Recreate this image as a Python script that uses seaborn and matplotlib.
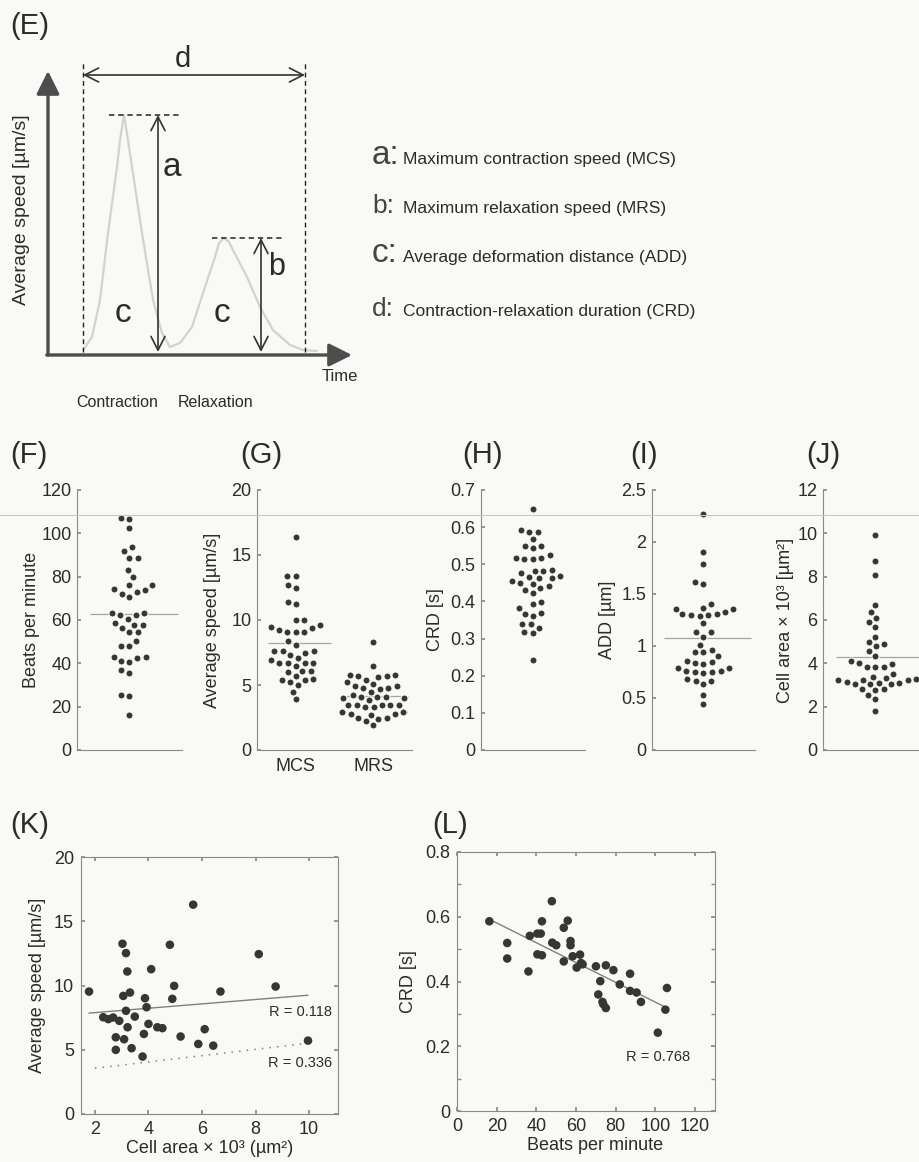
import numpy as np
import pandas as pd
import matplotlib
matplotlib.use("Agg")
import matplotlib.pyplot as plt
import seaborn as sns
from matplotlib.ticker import MultipleLocator, FuncFormatter

# ---------------------------------------------------------------- data
# (E) schematic speed trace (arbitrary time / speed units)
trace_time = [35, 44, 52, 60, 69, 72, 76, 80, 84, 94, 105, 114, 122, 132, 144,
              155, 167, 171, 176, 181, 185, 199, 212, 225, 242, 255, 269]
trace_speed = [5, 18, 55, 122, 188, 215, 240, 215, 188, 122, 55, 22, 8, 12, 28,
               62, 98, 112, 117, 113, 105, 78, 48, 25, 10, 5, 4]
legend_keys = ["a:", "b:", "c:", "d:"]
legend_texts = ["Maximum contraction speed (MCS)",
                "Maximum relaxation speed (MRS)",
                "Average deformation distance (ADD)",
                "Contraction-relaxation duration (CRD)"]

# (F) beats per minute
bpm = [107, 106.5, 102.6, 91.8, 93.8, 88.8, 88.8, 82.9, 79.7, 76.2, 76.2,
       74.3, 72.9, 70.8, 72.2, 73.8, 63.4, 62.3, 60.6, 62.2, 63.2, 58.8, 57.5,
       56.5, 57.8, 54.5, 54.5, 50.3, 48.2, 47.8, 42.9, 40.5, 41.1, 42.3, 43.1,
       35.7, 36.9, 25.4, 25.1, 16.2]
# (G) maximum contraction / relaxation speed [um/s]
mcs = [16.4, 13.4, 13.4, 12.5, 12.7, 11.4, 11.2, 10.0, 9.6, 9.5, 9.4, 10.0,
       9.1, 9.1, 9.2, 9.1, 8.4, 8.1, 7.5, 7.6, 7.6, 7.6, 7.3, 7.1, 6.7, 6.7,
       6.7, 6.7, 6.9, 6.5, 6.1, 6.0, 6.1, 5.7, 5.4, 5.2, 5.4, 5.5, 5.0, 4.5, 3.9]
mrs = [8.3, 6.5, 5.8, 5.7, 5.6, 5.7, 5.8, 5.2, 5.4, 4.9, 4.8, 4.8, 4.9, 5.1,
       4.5, 4.7, 4.1, 4.1, 4.0, 4.1, 4.2, 3.85, 4.0, 3.5, 3.5, 3.5, 3.5, 3.5,
       3.3, 3.3, 2.95, 2.8, 2.95, 2.8, 2.95, 2.5, 2.5, 2.4, 2.7, 2.2, 1.9]
speed_params = ["MCS", "MRS"]
# (H) contraction-relaxation duration [s]
crd = [0.650, 0.592, 0.588, 0.588, 0.568, 0.549, 0.543, 0.549, 0.518, 0.513,
       0.513, 0.518, 0.525, 0.482, 0.484, 0.483, 0.477, 0.466, 0.469, 0.462,
       0.456, 0.462, 0.450, 0.442, 0.432, 0.424, 0.435, 0.447, 0.392, 0.399,
       0.381, 0.365, 0.361, 0.369, 0.338, 0.317, 0.314, 0.329, 0.338, 0.243]
# (I) average deformation distance [um]
add = [2.27, 1.90, 1.79, 1.62, 1.60, 1.37, 1.36, 1.33, 1.36, 1.40, 1.30, 1.29,
       1.31, 1.30, 1.31, 1.22, 1.13, 1.13, 1.09, 1.01, 0.96, 0.94, 0.94, 0.90,
       0.85, 0.84, 0.86, 0.79, 0.76, 0.75, 0.74, 0.75, 0.76, 0.79, 0.83, 0.68,
       0.66, 0.66, 0.63, 0.53, 0.44]
# (J) cell area x 10^3 [um^2]
area = [9.91, 8.72, 8.10, 6.70, 6.39, 6.09, 5.89, 5.66, 5.23, 4.89, 5.00, 4.79,
        4.59, 4.36, 4.13, 3.98, 3.85, 3.85, 3.85, 4.02, 3.52, 3.39, 3.29, 3.21,
        3.13, 3.09, 3.03, 3.03, 3.06, 3.10, 3.21, 3.24, 3.33, 2.80, 2.75, 2.83,
        2.55, 2.37, 1.80]
# (K) cell area vs maximum contraction speed
area_k = [1.78, 5.67, 3.03, 3.16, 4.80, 8.12, 3.21, 4.10, 4.96, 8.75, 6.69,
          3.06, 3.31, 3.87, 4.89, 3.93, 3.16, 3.49, 2.31, 2.50, 2.68, 2.91,
          4.00, 3.22, 4.33, 4.52, 6.10, 3.83, 5.20, 2.78, 3.09, 5.86, 6.42,
          9.96, 2.78, 3.37, 3.78]
mcs_k = [9.53, 16.29, 13.25, 12.52, 13.17, 12.44, 11.09, 11.27, 9.97, 9.92,
         9.53, 9.19, 9.45, 9.01, 8.96, 8.31, 8.03, 7.58, 7.53, 7.38, 7.51, 7.25,
         7.01, 6.75, 6.75, 6.68, 6.60, 6.23, 6.03, 5.97, 5.82, 5.45, 5.32, 5.71,
         4.99, 5.12, 4.47]
fit_mcs_area = (7.55, 0.17)     # intercept, slope
fit_mrs_area = (3.07, 0.245)
r_k = ["R = 0.118", "R = 0.336"]
# (L) beats per minute vs CRD
bpm_l = [16.3, 47.8, 42.8, 55.8, 53.8, 25.3, 25.3, 36.7, 40.5, 42.2, 48.0,
         50.0, 57.2, 57.2, 40.5, 42.8, 36.0, 53.8, 58.3, 62.0, 60.3, 62.5,
         63.3, 70.0, 75.0, 78.8, 72.2, 82.0, 87.2, 87.2, 90.5, 92.7, 71.2,
         73.3, 73.7, 75.0, 105.8, 105.0, 101.2]
crd_l = [0.586, 0.648, 0.586, 0.588, 0.566, 0.519, 0.471, 0.541, 0.548, 0.548,
         0.520, 0.512, 0.525, 0.512, 0.484, 0.481, 0.431, 0.462, 0.478, 0.483,
         0.443, 0.457, 0.453, 0.447, 0.450, 0.435, 0.401, 0.391, 0.424, 0.371,
         0.366, 0.337, 0.360, 0.337, 0.330, 0.318, 0.380, 0.313, 0.242]
fit_crd_bpm = (0.642, -0.00306)
r_l = ["R = 0.768"]

# ---------------------------------------------------------------- style
sns.set_theme(style="white")
plt.rcParams["font.family"] = ["Liberation Sans", "DejaVu Sans"]
bg = "#f9f9f7"
ink = "#2b2b2b"
dot = "#363636"
spc = "#8a8a8a"
plt.rcParams.update({"axes.facecolor": "none", "text.color": ink,
                     "axes.labelcolor": ink, "xtick.color": ink,
                     "ytick.color": ink})
FS = 13

W, H = 920, 1162
fig = plt.figure(figsize=(W / 100, H / 100), dpi=100, facecolor=bg)


def rect(l, t, r, b):
    return [l / W, 1 - b / H, (r - l) / W, (b - t) / H]


def fpx(x, y):
    return x / W, 1 - y / H


# faint scan line across the middle row
fig.add_artist(plt.Line2D([0, 1], [1 - 515 / H] * 2, transform=fig.transFigure,
                          color="#c9c9c9", lw=0.8))

# ---------------------------------------------------------------- (E)
axe = fig.add_axes(rect(0, 0, 920, 420))
axe.set_xlim(-48, 872)
axe.set_ylim(-65, 355)
axe.axis("off")
sns.lineplot(x=trace_time, y=trace_speed, ax=axe, sort=False, estimator=None,
             color="#d2d2d2", lw=1.6)
head = "-|>,head_length=0.7,head_width=0.35"
axe.annotate("", xy=(0, 284), xytext=(0, 0),
             arrowprops=dict(arrowstyle=head, mutation_scale=20, lw=2.4,
                             color="#4d4d4d", shrinkA=0, shrinkB=0))
axe.annotate("", xy=(304, 0), xytext=(-1.2, 0),
             arrowprops=dict(arrowstyle=head, mutation_scale=20, lw=2.4,
                             color="#4d4d4d", shrinkA=0, shrinkB=0))
dash = (0, (3.5, 2.5))
t0, t1 = trace_time[0], 257
for tx in (t0, t1):
    axe.plot([tx, tx], [3, 293], ls=dash, color="#222", lw=1)
p1 = int(np.argmax(trace_speed))
p2 = trace_speed.index(max(trace_speed[12:]))
axe.plot([61, 132], [trace_speed[p1]] * 2, ls=dash, color="#222", lw=1.1)
axe.plot([164, 234], [trace_speed[p2]] * 2, ls=dash, color="#222", lw=1.1)
dbl = "<->,head_length=0.55,head_width=0.28"
for (xa, ya), (xb, yb) in [((t0, 280), (t1, 280)),
                           ((110, trace_speed[p1]), (110, 3)),
                           ((213, trace_speed[p2]), (213, 3))]:
    axe.annotate("", xy=(xb, yb), xytext=(xa, ya),
                 arrowprops=dict(arrowstyle=dbl, mutation_scale=18, lw=1.2,
                                 color="#333", shrinkA=0, shrinkB=0))
axe.text(135, 296, "d", fontsize=21, ha="center", va="center")
axe.text(115, 188, "a", fontsize=24, ha="left", va="center")
axe.text(220, 88, "b", fontsize=22, ha="left", va="center")
axe.text(75, 42, "c", fontsize=24, ha="center", va="center")
axe.text(174, 42, "c", fontsize=24, ha="center", va="center")
axe.text(292, -21, "Time", fontsize=12, ha="center", va="center")
axe.text(69, -47, "Contraction", fontsize=11.5, ha="center", va="center")
axe.text(168, -47, "Relaxation", fontsize=11.5, ha="center", va="center")
axe.text(-26, 145, "Average speed [µm/s]", fontsize=14, rotation=90,
         ha="center", va="center")
for i, (k, txt) in enumerate(zip(legend_keys, legend_texts)):
    yb = [164, 213, 262, 316][i]
    fig.text(*fpx(372, yb), k, fontsize=[24, 19, 24, 19][i], ha="left",
             va="baseline", color="#444")
    fig.text(*fpx(403, yb), txt, fontsize=12.5, ha="left", va="baseline")

# ---------------------------------------------------------------- panels F-J
fmt = FuncFormatter(lambda v, p: f"{v:g}")
SW = dict(color=dot, size=5.1, linewidth=0.8, edgecolor=bg, zorder=3)


def style_swarm(ax, ylim, step, ylabel, lab_x):
    ax.set_ylim(*ylim)
    ax.yaxis.set_major_locator(MultipleLocator(step))
    ax.yaxis.set_major_formatter(fmt)
    for s in ("top", "right"):
        ax.spines[s].set_visible(False)
    for s in ("left", "bottom"):
        ax.spines[s].set_color(spc)
        ax.spines[s].set_linewidth(0.8)
    ax.tick_params(axis="y", direction="in", length=3, color=spc,
                   labelsize=FS, pad=4, left=True)
    ax.set_ylabel(ylabel, fontsize=FS)
    ax.yaxis.set_label_coords(lab_x, 0.5)
    ax.set_xlabel("")


def single_swarm(box, values, ylim, step, ylabel, lab_x, show_mean=True):
    ax = fig.add_axes(rect(*box))
    sns.swarmplot(y=values, ax=ax, **SW)
    if show_mean:
        ax.hlines(float(np.mean(values)), -0.38, 0.46, color="#a3a3a3",
                  lw=0.9, zorder=2)
    ax.set_xlim(-0.5, 0.5)
    ax.set_xticks([])
    style_swarm(ax, ylim, step, ylabel, lab_x)
    return ax


single_swarm((77, 490, 182, 750), bpm, (0, 120), 20, "Beats per minute", -0.35)

axg = fig.add_axes(rect(257, 490, 412, 750))
speed_df = pd.DataFrame({"param": [speed_params[0]] * len(mcs)
                         + [speed_params[1]] * len(mrs),
                         "speed": mcs + mrs})
sns.swarmplot(data=speed_df, x="param", y="speed", order=speed_params, ax=axg,
              **SW)
for i, vals in enumerate([mcs, mrs]):
    axg.hlines(float(np.mean(vals)), i - 0.36, i + 0.45, color="#a3a3a3",
               lw=0.9, zorder=2)
axg.set_xlim(-0.5, 1.5)
axg.tick_params(axis="x", length=0, labelsize=FS, pad=6)
style_swarm(axg, (0, 20), 5, "Average speed [µm/s]", -0.23)

single_swarm((481, 490, 585, 750), crd, (0, 0.7), 0.1, "CRD [s]", -0.36,
             show_mean=False)
single_swarm((652, 490, 755, 750), add, (0, 2.5), 0.5, "ADD [µm]", -0.35)
single_swarm((823, 490, 928, 750), area, (0, 12), 2,
             "Cell area × 10³ [µm²]", -0.28)

# ---------------------------------------------------------------- (K)


def box_style(ax):
    for s in ax.spines.values():
        s.set_visible(True)
        s.set_color(spc)
        s.set_linewidth(0.8)
    ax.tick_params(which="both", direction="in", length=3, color=spc,
                   top=True, right=True, bottom=True, left=True,
                   labelsize=FS, pad=5)


axk = fig.add_axes(rect(81, 857, 338, 1114))
sns.scatterplot(x=area_k, y=mcs_k, ax=axk, color=dot, s=38, edgecolor="none",
                zorder=3)
xs = np.array([min(area_k), max(area_k)])
sns.lineplot(x=xs, y=fit_mcs_area[0] + fit_mcs_area[1] * xs, ax=axk,
             color="#808080", lw=1)
xs2 = np.array([2.0, max(area_k)])
sns.lineplot(x=xs2, y=fit_mrs_area[0] + fit_mrs_area[1] * xs2, ax=axk,
             color="#808080", lw=1.1, linestyle=(0, (1, 4)))
axk.set_xlim(1.48, 11.08)
axk.set_ylim(0, 20)
axk.xaxis.set_major_locator(MultipleLocator(2))
axk.yaxis.set_major_locator(MultipleLocator(5))
axk.xaxis.set_major_formatter(fmt)
box_style(axk)
axk.text(10.85, 7.9, r_k[0], fontsize=10.5, ha="right", va="center")
axk.text(10.85, 3.97, r_k[1], fontsize=10.5, ha="right", va="center")
axk.set_ylabel("Average speed [µm/s]", fontsize=FS)
axk.yaxis.set_label_coords(-0.135, 0.5)
axk.set_xlabel("Cell area × 10³ (µm²)", fontsize=FS)
axk.xaxis.set_label_coords(0.5, -0.1)

# ---------------------------------------------------------------- (L)
axl = fig.add_axes(rect(457, 852, 715, 1111))
sns.scatterplot(x=bpm_l, y=crd_l, ax=axl, color=dot, s=38, edgecolor="none",
                zorder=3)
xl = np.array([min(bpm_l), max(bpm_l)])
sns.lineplot(x=xl, y=fit_crd_bpm[0] + fit_crd_bpm[1] * xl, ax=axl,
             color="#808080", lw=1)
axl.set_xlim(0, 130)
axl.set_ylim(0, 0.8)
axl.xaxis.set_major_locator(MultipleLocator(20))
axl.yaxis.set_major_locator(MultipleLocator(0.2))
axl.yaxis.set_minor_locator(MultipleLocator(0.1))
axl.yaxis.set_major_formatter(fmt)
box_style(axl)
axl.text(117.4, 0.167, r_l[0], fontsize=10.5, ha="right", va="center")
axl.set_ylabel("CRD [s]", fontsize=FS)
axl.yaxis.set_label_coords(-0.155, 0.5)
axl.set_xlabel("Beats per minute", fontsize=FS)
axl.xaxis.set_label_coords(0.535, -0.1)

# ---------------------------------------------------------------- panel letters
for lab, (px, py) in {"(E)": (10, 12), "(F)": (10, 441), "(G)": (240, 441),
                      "(H)": (462, 441), "(I)": (630, 441), "(J)": (806, 441),
                      "(K)": (10, 811), "(L)": (432, 811)}.items():
    fig.text(*fpx(px, py), lab, fontsize=21, ha="left", va="top")

fig.savefig("out.png", dpi=100, facecolor=bg)
